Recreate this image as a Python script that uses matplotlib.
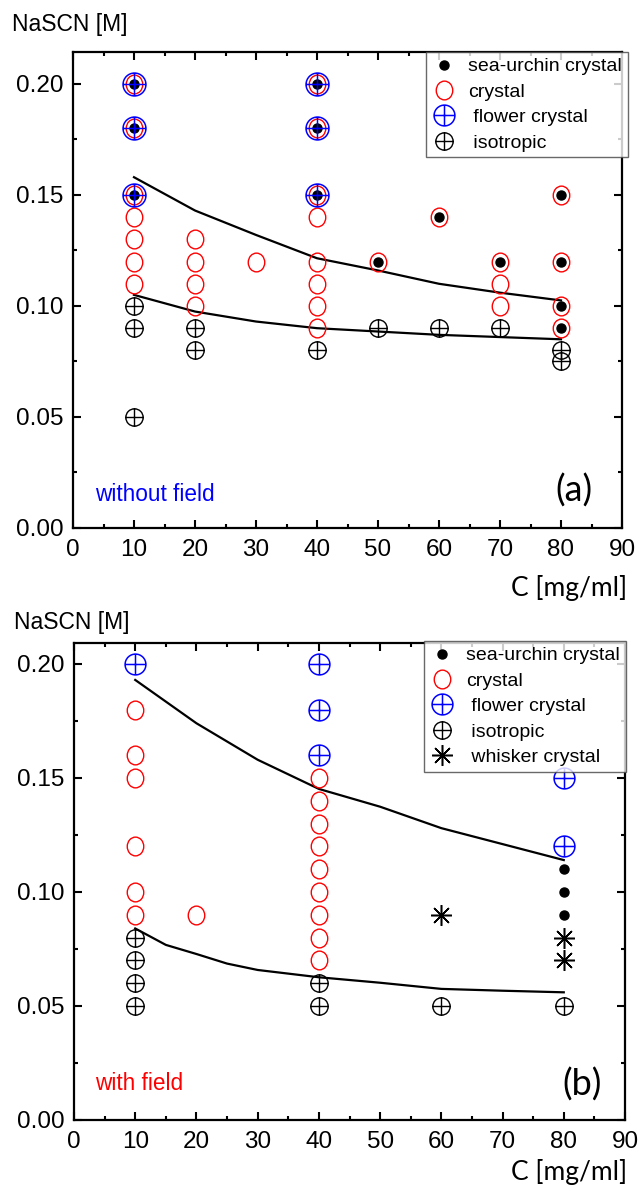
import matplotlib
matplotlib.use('Agg')
import matplotlib.pyplot as plt
from matplotlib.path import Path
from matplotlib.lines import Line2D
from matplotlib.ticker import MultipleLocator, FormatStrFormatter
import numpy as np

# ---------------- data: panel (a) without field ----------------
a_urchin_x = [10, 10, 10, 40, 40, 40, 50, 60, 70, 80, 80, 80, 80]
a_urchin_y = [0.20, 0.18, 0.15, 0.20, 0.18, 0.15, 0.12, 0.14, 0.12, 0.15, 0.12, 0.10, 0.09]
a_crystal_x = [10, 10, 10, 10, 10, 10, 10, 20, 20, 20, 20, 30, 40, 40, 40, 40, 40, 40, 40, 40,
               50, 60, 70, 70, 70, 80, 80, 80, 80]
a_crystal_y = [0.20, 0.18, 0.15, 0.14, 0.13, 0.12, 0.11, 0.13, 0.12, 0.11, 0.10, 0.12,
               0.20, 0.18, 0.15, 0.14, 0.12, 0.11, 0.10, 0.09,
               0.12, 0.14, 0.12, 0.11, 0.10, 0.15, 0.12, 0.10, 0.09]
a_flower_x = [10, 10, 10, 40, 40, 40]
a_flower_y = [0.20, 0.18, 0.15, 0.20, 0.18, 0.15]
a_iso_x = [10, 10, 10, 20, 20, 40, 50, 60, 70, 80, 80]
a_iso_y = [0.10, 0.09, 0.05, 0.09, 0.08, 0.08, 0.09, 0.09, 0.09, 0.08, 0.075]
a_upper_x = [10, 20, 30, 40, 50, 60, 70, 80]
a_upper_y = [0.158, 0.143, 0.132, 0.1215, 0.116, 0.110, 0.106, 0.1025]
a_lower_x = [10, 20, 30, 40, 50, 60, 70, 80]
a_lower_y = [0.105, 0.0975, 0.093, 0.090, 0.0885, 0.087, 0.086, 0.085]

# ---------------- data: panel (b) with field ----------------
b_urchin_x = [80, 80, 80]
b_urchin_y = [0.11, 0.10, 0.09]
b_crystal_x = [10, 10, 10, 10, 10, 10, 20, 40, 40, 40, 40, 40, 40, 40, 40, 40]
b_crystal_y = [0.18, 0.16, 0.15, 0.12, 0.10, 0.09, 0.09,
               0.15, 0.14, 0.13, 0.12, 0.11, 0.10, 0.09, 0.08, 0.07]
b_flower_x = [10, 40, 40, 40, 80, 80]
b_flower_y = [0.20, 0.20, 0.18, 0.16, 0.15, 0.12]
b_iso_x = [10, 10, 10, 10, 40, 40, 60, 80]
b_iso_y = [0.08, 0.07, 0.06, 0.05, 0.06, 0.05, 0.05, 0.05]
b_whisker_x = [60, 80, 80]
b_whisker_y = [0.09, 0.08, 0.07]
b_upper_x = [10, 20, 30, 40, 50, 60, 70, 80]
b_upper_y = [0.193, 0.174, 0.158, 0.1452, 0.1374, 0.128, 0.121, 0.114]
b_lower_x = [10, 15, 20, 25, 30, 40, 50, 60, 70, 80]
b_lower_y = [0.084, 0.0768, 0.0728, 0.0686, 0.0658, 0.0626, 0.0602, 0.0575, 0.0567, 0.0560]

x_ticks = list(range(0, 91, 10))
y_ticks = [0.00, 0.05, 0.10, 0.15, 0.20]
legend_labels = ["sea-urchin crystal", "crystal", " flower crystal", " isotropic", " whisker crystal"]

# ---------------- styling ----------------
SANS = ['Liberation Sans', 'DejaVu Sans']
HUMAN = ['Lato', 'Open Sans', 'DejaVu Sans']
BLUE = '#0000ff'
RED = '#ff0000'

W, H = 639, 1193
fig = plt.figure(figsize=(W / 100, H / 100), dpi=100)

uc = Path.unit_circle()
circle_plus = Path.make_compound_path(
    uc,
    Path([[-1, 0], [1, 0]], [Path.MOVETO, Path.LINETO]),
    Path([[0, -1], [0, 1]], [Path.MOVETO, Path.LINETO]))
ellipse = Path(uc.vertices * np.array([0.88, 1.0]), uc.codes)
whisker = (8, 2, 0)


def px(x, y):
    return x / W, 1 - y / H


def style_axes(ax, ytop):
    ax.set_xlim(0, 90)
    ax.set_ylim(0, ytop)
    ax.set_xticks(x_ticks)
    ax.set_yticks(y_ticks)
    ax.xaxis.set_minor_locator(MultipleLocator(5))
    ax.yaxis.set_minor_locator(MultipleLocator(0.025))
    ax.yaxis.set_major_formatter(FormatStrFormatter('%.2f'))
    ax.tick_params(which='both', direction='in', top=True, right=True, width=1.5)
    ax.tick_params(which='major', length=6, labelsize=17.5)
    ax.tick_params(axis='x', which='major', pad=8)
    ax.tick_params(axis='y', which='major', pad=7)
    ax.tick_params(which='minor', length=3)
    for lab in ax.get_xticklabels() + ax.get_yticklabels():
        lab.set_family(SANS)
    for s in ax.spines.values():
        s.set_linewidth(1.6)
        s.set_color('black')


def panel(ax, urx, ury, crx, cry, flx, fly, isx, isy, upx, upy, lox, loy,
          whx=None, why=None, fl_size=16.5):
    ax.plot(upx, upy, color='black', lw=1.6, zorder=2)
    ax.plot(lox, loy, color='black', lw=1.6, zorder=2)
    ax.plot(crx, cry, ls='none', marker=ellipse, ms=13.5, mfc='none', mec=RED, mew=1.0, zorder=3)
    ax.plot(urx, ury, ls='none', marker='o', ms=6.5, mfc='black', mec='black', zorder=4)
    ax.plot(flx, fly, ls='none', marker=circle_plus, ms=fl_size, mfc='none', mec=BLUE, mew=1.1, zorder=5)
    ax.plot(isx, isy, ls='none', marker=circle_plus, ms=12.5, mfc='none', mec='black', mew=1.0, zorder=5)
    handles = [
        Line2D([], [], ls='none', marker='o', ms=6.5, mfc='black', mec='black'),
        Line2D([], [], ls='none', marker=ellipse, ms=13.5, mfc='none', mec=RED, mew=1.0),
        Line2D([], [], ls='none', marker=circle_plus, ms=15, mfc='none', mec=BLUE, mew=1.1),
        Line2D([], [], ls='none', marker=circle_plus, ms=12.5, mfc='none', mec='black', mew=1.0),
    ]
    if whx is not None:
        ax.plot(whx, why, ls='none', marker=whisker, ms=15, mec='black', mew=1.1, zorder=5)
        handles.append(Line2D([], [], ls='none', marker=whisker, ms=15, mec='black', mew=1.1))
    return handles


def make_legend(ax, handles, labels, right_px, top_px):
    leg = ax.legend(handles, labels, loc='upper right', bbox_to_anchor=px(right_px, top_px),
                    bbox_transform=fig.transFigure, borderaxespad=0, fancybox=False,
                    frameon=True, handlelength=1.3, handletextpad=0.6, labelspacing=0.40,
                    borderpad=0.3, prop={'family': SANS, 'size': 14})
    leg.get_frame().set_edgecolor('#444444')
    leg.get_frame().set_linewidth(1.0)
    leg.set_zorder(10)
    return leg


# ---------------- panel (a) ----------------
ax1 = fig.add_axes([73 / W, 1 - 528 / H, 549 / W, 476 / H])
style_axes(ax1, 0.2144)
h1 = panel(ax1, a_urchin_x, a_urchin_y, a_crystal_x, a_crystal_y, a_flower_x, a_flower_y,
           a_iso_x, a_iso_y, a_upper_x, a_upper_y, a_lower_x, a_lower_y, fl_size=16.5)
make_legend(ax1, h1, legend_labels[:4], 628, 52)

# ---------------- panel (b) ----------------
ax2 = fig.add_axes([74 / W, 1 - 1120 / H, 551 / W, 477 / H])
style_axes(ax2, 0.2092)
h2 = panel(ax2, b_urchin_x, b_urchin_y, b_crystal_x, b_crystal_y, b_flower_x, b_flower_y,
           b_iso_x, b_iso_y, b_upper_x, b_upper_y, b_lower_x, b_lower_y,
           whx=b_whisker_x, why=b_whisker_y, fl_size=15)
make_legend(ax2, h2, legend_labels, 626, 641)

# ---------------- texts ----------------
fig.text(*px(12, 25), "NaSCN [M]", ha='left', va='center', fontsize=16.5, family=SANS)
fig.text(*px(14, 623), "NaSCN [M]", ha='left', va='center', fontsize=16.5, family=SANS)
fig.text(*px(627, 588), "C [mg/ml]", ha='right', va='center', fontsize=19, family=HUMAN)
fig.text(*px(627, 1172), "C [mg/ml]", ha='right', va='center', fontsize=19, family=HUMAN)
fig.text(*px(574, 491), "(a)", ha='center', va='center', fontsize=26, family=HUMAN)
fig.text(*px(582, 1085), "(b)", ha='center', va='center', fontsize=26, family=HUMAN)
fig.text(*px(95, 494), "without field", ha='left', va='center', fontsize=16.3, family=SANS, color=BLUE)
fig.text(*px(95, 1084), "with field", ha='left', va='center', fontsize=16.3, family=SANS, color=RED)

fig.savefig('out.png', dpi=100)
